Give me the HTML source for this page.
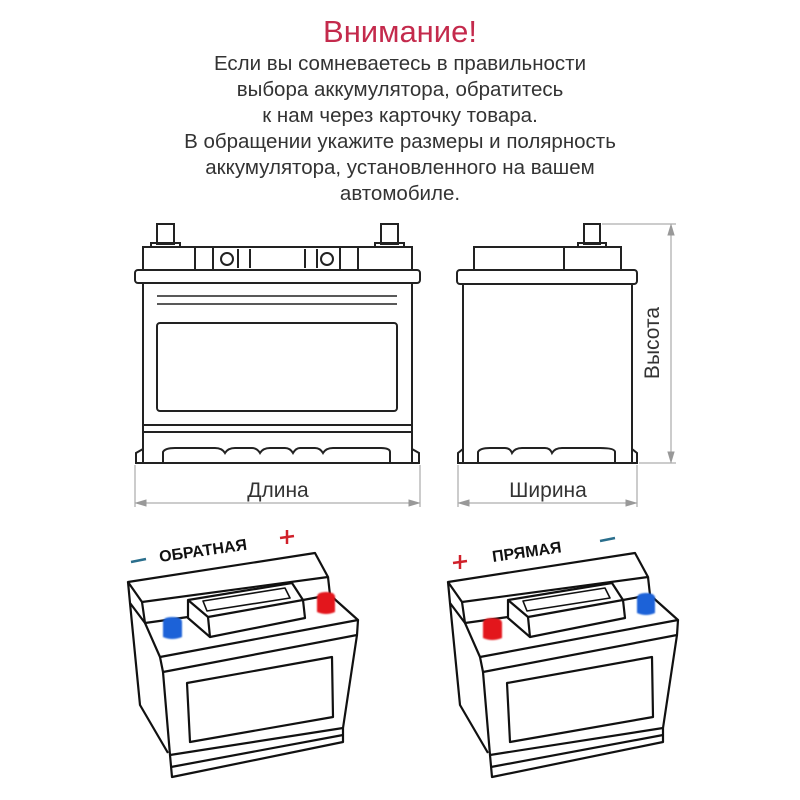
<!DOCTYPE html>
<html><head><meta charset="utf-8"><style>
html,body{margin:0;padding:0;background:#fff;width:800px;height:800px;overflow:hidden}
svg{display:block}
.t{font-family:"Liberation Sans",sans-serif;fill:#333;text-anchor:middle}
</style></head><body>
<svg width="800" height="800" viewBox="0 0 800 800" xmlns="http://www.w3.org/2000/svg">
<defs>
<filter id="gl" x="-50%" y="-50%" width="200%" height="200%"><feGaussianBlur stdDeviation="0.8"/></filter>
</defs>
<text class="t" x="400" y="42" font-size="31" style="fill:#c42a4c">Внимание!</text>
<g class="t" font-size="20.5">
<text x="400" y="70">Если вы сомневаетесь в правильности</text>
<text x="400" y="96">выбора аккумулятора, обратитесь</text>
<text x="400" y="122">к нам через карточку товара.</text>
<text x="400" y="148">В обращении укажите размеры и полярность</text>
<text x="400" y="174">аккумулятора, установленного на вашем</text>
<text x="400" y="200">автомобиле.</text>
</g>
<g fill="none" stroke="#222" stroke-width="2">
<rect x="157" y="224" width="17" height="20"/><rect x="151" y="243" width="29" height="4"/>
<rect x="381" y="224" width="17" height="20"/><rect x="375" y="243" width="29" height="4"/>
<rect x="143" y="247" width="269" height="23"/>
<line x1="195" y1="247" x2="195" y2="270"/><line x1="213" y1="247" x2="213" y2="270"/>
<line x1="340" y1="247" x2="340" y2="270"/><line x1="358" y1="247" x2="358" y2="270"/>
<line x1="238" y1="249" x2="238" y2="268"/><line x1="250" y1="249" x2="250" y2="268"/>
<line x1="305" y1="249" x2="305" y2="268"/><line x1="317" y1="249" x2="317" y2="268"/>
<circle cx="227" cy="259" r="6"/><circle cx="327" cy="259" r="6"/>
<rect x="135" y="270" width="285" height="13" rx="3"/>
<rect x="143" y="283" width="269" height="180"/>
<line x1="157" y1="296" x2="397" y2="296" stroke-width="1.5"/><line x1="157" y1="304" x2="397" y2="304" stroke-width="1.5"/>
<rect x="157" y="323" width="240" height="88" rx="3"/>
<line x1="143" y1="425" x2="412" y2="425"/><line x1="143" y1="432" x2="412" y2="432"/>
<path d="M143 449 L136 453 L136 463 L419 463 L419 453 L412 449"/>
<path d="M163 463 V452 Q165 448 175 448 H215 Q222 448 225 453 Q228 448 235 448 H252 Q257 448 260 453 Q263 448 270 448 H285 Q290 448 293 453 Q296 448 300 448 H315 Q320 448 323 453 Q326 448 333 448 H380 Q390 448 390 452 V463"/>
<rect x="584" y="224" width="16" height="20"/><rect x="578" y="243" width="28" height="4"/>
<rect x="474" y="247" width="147" height="23"/><line x1="564" y1="247" x2="564" y2="270"/>
<rect x="457" y="270" width="180" height="14" rx="3"/>
<rect x="463" y="284" width="169" height="179"/>
<path d="M463 449 L458 453 L458 463 L637 463 L637 453 L632 449"/>
<path d="M478 463 V452 Q480 448 490 448 H505 Q510 448 512 453 Q515 448 522 448 H545 Q550 448 552 453 Q555 448 562 448 H600 Q615 448 615 452 V463"/>
</g>
<g stroke="#999" stroke-width="1" fill="#999">
<line x1="135" y1="465" x2="135" y2="507"/><line x1="420" y1="465" x2="420" y2="507"/>
<line x1="138" y1="503" x2="417" y2="503"/>
<path d="M136 503 l10 -3 v6z M419 503 l-10 -3 v6z"/>
<line x1="458" y1="465" x2="458" y2="507"/><line x1="637" y1="465" x2="637" y2="507"/>
<line x1="460" y1="503" x2="635" y2="503"/>
<path d="M459 503 l10 -3 v6z M636 503 l-10 -3 v6z"/>
<line x1="602" y1="224" x2="676" y2="224"/><line x1="639" y1="463" x2="676" y2="463"/>
<line x1="671" y1="226" x2="671" y2="461"/>
<path d="M671 225 l-3 10 h6z M671 462 l-3 -10 h6z"/>
</g>
<text class="t" x="278" y="497" font-size="21">Длина</text>
<text class="t" x="548" y="497" font-size="21">Ширина</text>
<text class="t" x="0" y="0" font-size="21" transform="translate(659,343) rotate(-90)">Высота</text>
<!-- perspective battery (right coords) -->
<g id="pb" fill="none" stroke="#111" stroke-width="2.2" stroke-linejoin="round">
<path d="M448 582 L635 553 L648 577 L462 602 Z"/>
<path d="M448 582 L450 603 L465 623 L462 602"/>
<path d="M465 623 L508 617 M623 600 L650 595 L648 577"/>
<path d="M465 623 L480 657 L678 620 L650 595"/>
<path d="M480 657 L483 672 L677 635 L678 620"/>
<path d="M508 600 L612 583 L623 600 L625 618 L530 637 L508 618 Z"/>
<path d="M508 600 L528 617 L530 637 M528 617 L623 600"/>
<path d="M523 601 L605 588 L610 598 L527 611 Z" stroke-width="1.6"/>
<path d="M450 603 L460 705 L488 753"/>
<path d="M483 672 L490 755 L492 777 L663 742 L663 728 L677 635"/>
<path d="M490 755 L663 728"/>
<path d="M491 767 L663 735"/>
<path d="M507 683 L652 657 L653 717 L510 742 Z"/>
</g>
<use href="#pb" x="-320" y="0"/>
<!-- terminals -->
<g filter="url(#gl)">
<path d="M163 622 Q163 617 172 617 Q182 617 182 622 V637 Q172 641 163 637 Z" fill="#1a62d8"/>
<path d="M317 597 Q317 592 326 592 Q335 592 335 597 V612 Q326 616 317 612 Z" fill="#e3171f"/>
<path d="M483 623 Q483 618 492 618 Q502 618 502 623 V638 Q492 642 483 638 Z" fill="#e3171f"/>
<path d="M637 598 Q637 593 646 593 Q655 593 655 598 V613 Q646 617 637 613 Z" fill="#1a62d8"/>
</g>
<g font-family="Liberation Sans,sans-serif" font-weight="bold" font-size="16" fill="#111">
<text x="160" y="562" transform="rotate(-8 160 562)">ОБРАТНАЯ</text>
<text x="493" y="562" transform="rotate(-8 493 562)">ПРЯМАЯ</text>
</g>
<g stroke-width="2.5">
<line x1="131" y1="562" x2="146" y2="559" stroke="#2a6e8c"/>
<line x1="280" y1="538" x2="294" y2="536" stroke="#d0202a"/><line x1="287" y1="530" x2="287" y2="544" stroke="#d0202a"/>
<line x1="453" y1="563" x2="467" y2="561" stroke="#d0202a"/><line x1="460" y1="555" x2="460" y2="569" stroke="#d0202a"/>
<line x1="600" y1="541" x2="615" y2="538" stroke="#2a6e8c"/>
</g>
</svg>
</body></html>
